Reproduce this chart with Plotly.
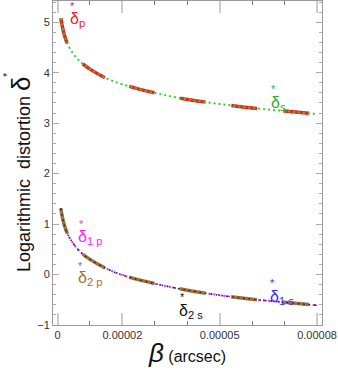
import plotly.graph_objects as go

beta = [0.1e-5, 0.2e-5, 0.3e-5, 0.5e-5, 0.75e-5, 1e-5, 1.5e-5, 2e-5,
        3e-5, 4e-5, 5e-5, 6e-5, 7e-5, 8e-5]

# primary / secondary image (upper pair of curves)
delta_p = [5.08, 4.77, 4.58, 4.36, 4.19, 4.07, 3.89, 3.77, 3.60, 3.47, 3.38, 3.30, 3.24, 3.18]
delta_s = [5.08, 4.77, 4.58, 4.36, 4.19, 4.07, 3.89, 3.77, 3.60, 3.47, 3.38, 3.30, 3.24, 3.18]

# lower group of curves
delta_1p = [1.31, 1.00, 0.82, 0.60, 0.42, 0.30, 0.12, -0.01, -0.18, -0.31, -0.41, -0.49, -0.55, -0.61]
delta_1s = [1.31, 1.00, 0.82, 0.60, 0.42, 0.30, 0.12, -0.01, -0.18, -0.31, -0.41, -0.49, -0.55, -0.61]
delta_2p = [1.31, 1.00, 0.82, 0.60, 0.42, 0.30, 0.12, -0.01, -0.18, -0.31, -0.41, -0.49, -0.55, -0.61]
delta_2s = [1.31, 1.00, 0.82, 0.60, 0.42, 0.30, 0.12, -0.01, -0.18, -0.31, -0.41, -0.49, -0.55, -0.61]

x_tickvals = [0, 2e-5, 5e-5, 8e-5]
x_ticktext = ["0", "0.00002", "0.00005", "0.00008"]

font_family = "Arial, Liberation Sans, sans-serif"

fig = go.Figure()

def add_line(y, color, width, dash):
    fig.add_trace(go.Scatter(x=beta, y=y, mode="lines", line_shape="spline",
                             line=dict(color=color, width=width, dash=dash),
                             hoverinfo="skip"))

add_line(delta_p, "#ee2222", 3.5, "26px,26px")
add_line(delta_s, "#33cc33", 2, "2px,3px")

add_line(delta_1p, "#ff22ff", 2, "2px,3px")
add_line(delta_1s, "#3333ff", 1.5, "1.5px,6px")
add_line(delta_2p, "#a0703c", 3.5, "26px,26px")
add_line(delta_2s, "#222222", 1.5, "1.5px,4px")


# pixel -> data helpers for the label placement
def xd(px):
    return (px - 57.5) / 32.44 * 1e-5


def yd(py):
    return 5 - (py - 22) / 50.5


labels = [
    # (delta left px, delta center py, star px, star py, subscript, color)
    (68, 19, 72.5, 6, "p", "#ee2222"),
    (269, 103, 274, 89, "s.", "#33aa33"),
    (76, 237, 81, 224, "1 p", "#ff22ff"),
    (76, 278, 80, 266, "2 p", "#a0703c"),
    (177, 311, 182, 297, "2 s", "#111111"),
    (268, 297, 273, 283, "1 s", "#3333ff"),
]

annotations = []
for lx, ly, sx, sy, sub, col in labels:
    annotations.append(dict(x=xd(lx), y=yd(ly), xref="x", yref="y", xanchor="left", yanchor="middle",
                            text="δ<sub>" + sub + "</sub>", showarrow=False,
                            font=dict(size=16, color=col, family=font_family)))
    annotations.append(dict(x=xd(sx), y=yd(sy), xref="x", yref="y", xanchor="center", yanchor="middle",
                            text="*", showarrow=False,
                            font=dict(size=11, color=col, family=font_family)))


# paper coords: plot area spans px 53..322 horizontally and 1..325 vertically
def xp(px):
    return (px - 53) / 269


def yp(py):
    return (325 - py) / 324


annotations.append(dict(x=xp(21), y=yp(174), xref="paper", yref="paper", textangle=-90,
                        xanchor="center", yanchor="middle", showarrow=False,
                        text="Logarithmic  distortion <span style='font-size:26px'>δ</span>",
                        font=dict(size=18, color="#111111", family=font_family)))
annotations.append(dict(x=xp(7), y=yp(75), xref="paper", yref="paper", textangle=-90,
                        xanchor="center", yanchor="middle", showarrow=False, text="*",
                        font=dict(size=11, color="#111111", family=font_family)))
annotations.append(dict(x=xp(187), y=yp(353), xref="paper", yref="paper",
                        xanchor="center", yanchor="middle", showarrow=False,
                        text="<span style='font-size:26px'><i>β</i></span> (arcsec)",
                        font=dict(size=16, color="#111111", family=font_family)))

fig.update_layout(width=338, height=371, margin=dict(l=53, r=16, t=1, b=46),
                  paper_bgcolor="white", plot_bgcolor="white", showlegend=False,
                  font=dict(family=font_family, size=11, color="#333333"),
                  annotations=annotations)

fig.update_xaxes(range=[-0.139e-5, 8.154e-5], tickmode="array", tickvals=x_tickvals, ticktext=x_ticktext,
                 automargin=False,
                 showgrid=False, zeroline=False, showline=True, linecolor="#999999", linewidth=1,
                 mirror="ticks", ticks="inside", ticklen=12, tickwidth=2, tickcolor="#cccccc",
                 tickfont=dict(size=11, color="#333333"),
                 minor=dict(dtick=1e-5, tick0=0, ticks="inside", ticklen=4, tickwidth=1, tickcolor="#777777"))

fig.update_yaxes(range=[-1, 5.42], dtick=1, tick0=0, automargin=False,
                 showgrid=False, zeroline=False, showline=True, linecolor="#999999", linewidth=1,
                 mirror="ticks", ticks="inside", ticklen=6, tickwidth=1, tickcolor="#aaaaaa",
                 tickfont=dict(size=11, color="#333333"),
                 minor=dict(dtick=0.2, tick0=0, ticks="inside", ticklen=3, tickwidth=1, tickcolor="#aaaaaa"))

# the page's default body margin would shift the 338x371 figure out of the window
fig.write_html("out.html", config={"displayModeBar": False},
               post_script="document.body.style.margin='0px';")
